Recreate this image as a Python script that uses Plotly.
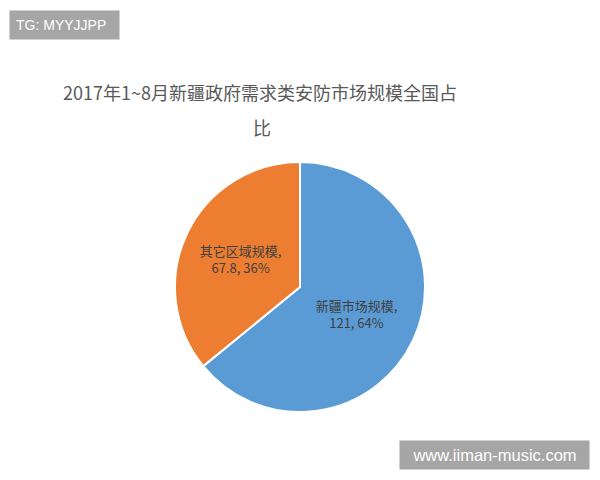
import plotly.graph_objects as go

labels = ["新疆市场规模", "其它区域规模"]
values = [121, 67.8]
colors = ["#5B9BD5", "#ED7D31"]
title_lines = ["2017年1~8月新疆政府需求类安防市场规模全国占", "比"]

W, H = 592, 472  # page body has an 8px margin
cx, cy, r = 292, 279, 125

fig = go.Figure()
fig.add_trace(go.Pie(
    labels=labels, values=values, sort=False, direction="clockwise", rotation=0,
    marker=dict(colors=colors, line=dict(color="white", width=2)),
    texttemplate="%{label},<br>%{value}, %{percent:.0%}",
    textposition="inside", insidetextorientation="horizontal",
    textfont=dict(family="Noto Sans CJK SC", size=13, color="#404040"),
    domain=dict(x=[(cx - r) / W, (cx + r) / W], y=[(H - cy - r) / H, (H - cy + r) / H]),
    showlegend=False, hoverinfo="skip",
))

fig.add_annotation(text=title_lines[0], x=252 / W, y=1 - 84 / H, xref="paper", yref="paper",
                   xanchor="center", yanchor="middle", showarrow=False,
                   font=dict(family="Noto Sans CJK SC", size=18, color="#595959"))
fig.add_annotation(text=title_lines[1], x=254 / W, y=1 - 119 / H, xref="paper", yref="paper",
                   xanchor="center", yanchor="middle", showarrow=False,
                   font=dict(family="Noto Sans CJK SC", size=18, color="#595959"))
fig.add_annotation(text="TG: MYYJJPP", x=1 / W, y=1 - 2 / H, xref="paper", yref="paper",
                   xanchor="left", yanchor="top", showarrow=False, bgcolor="#a6a6a6",
                   borderpad=6, width=97, align="left",
                   font=dict(family="Liberation Sans", size=14, color="white"))
fig.add_annotation(text="www.iiman-music.com", x=582 / W, y=1 - 432 / H, xref="paper", yref="paper",
                   xanchor="right", yanchor="top", showarrow=False, bgcolor="#a6a6a6",
                   borderpad=5, width=179,
                   font=dict(family="Liberation Sans", size=16.5, color="white"))

fig.update_layout(width=W, height=H, margin=dict(l=0, r=0, t=0, b=0),
                  paper_bgcolor="white", plot_bgcolor="white")
fig.write_html("out.html")
